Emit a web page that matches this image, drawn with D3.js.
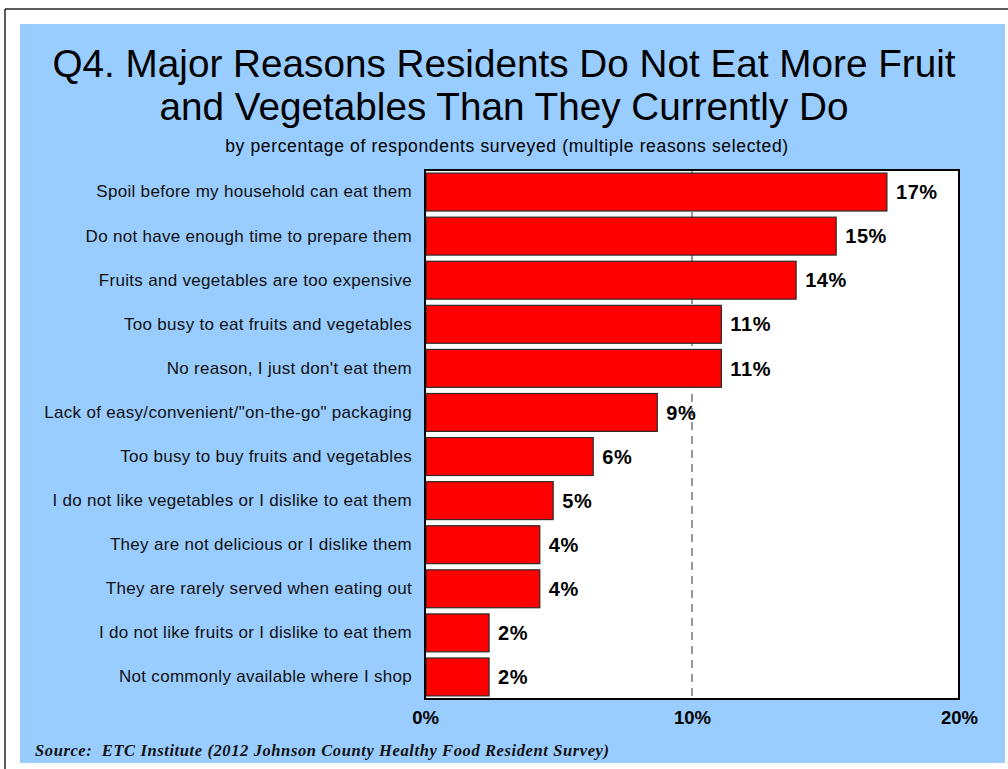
<!DOCTYPE html>
<html>
<head>
<meta charset="utf-8">
<script src="https://cdn.jsdelivr.net/npm/d3@7"></script>
<style>
  html, body { margin: 0; padding: 0; background: #fff; }
  svg { display: block; }
  text { white-space: pre; }
</style>
</head>
<body>
<svg id="chart" width="1008" height="769"></svg>
<script>
// Survey reasons and share of respondents (%)
const reasons = [
  "Spoil before my household can eat them",
  "Do not have enough time to prepare them",
  "Fruits and vegetables are too expensive",
  "Too busy to eat fruits and vegetables",
  "No reason, I just don't eat them",
  "Lack of easy/convenient/\"on-the-go\" packaging",
  "Too busy to buy fruits and vegetables",
  "I do not like vegetables or I dislike to eat them",
  "They are not delicious or I dislike them",
  "They are rarely served when eating out",
  "I do not like fruits or I dislike to eat them",
  "Not commonly available where I shop"
];
const percents = [17.3, 15.4, 13.9, 11.1, 11.1, 8.7, 6.3, 4.8, 4.3, 4.3, 2.4, 2.4];
const xTicks = [0, 10, 20];

const titleLines = [
  "Q4. Major Reasons Residents Do Not Eat More Fruit",
  "and Vegetables Than They Currently Do"
];
const subtitle = "by percentage of respondents surveyed (multiple reasons selected)";
const source = "Source:  ETC Institute (2012 Johnson County Healthy Food Resident Survey)";

const sans = "'Liberation Sans', Arial, sans-serif";
const svg = d3.select("#chart");

// page frame lines
svg.append("line").attr("x1", 5).attr("x2", 1008).attr("y1", 9).attr("y2", 9)
  .attr("stroke", "#222").attr("stroke-width", 1.5);
svg.append("line").attr("x1", 5).attr("x2", 5).attr("y1", 9).attr("y2", 769)
  .attr("stroke", "#222").attr("stroke-width", 1.5);

// light blue slide background
svg.append("rect").attr("x", 20).attr("y", 24).attr("width", 985).attr("height", 739)
  .attr("fill", "#99CCFF");

// title
const title = svg.append("text")
  .attr("text-anchor", "middle")
  .attr("font-family", sans)
  .attr("font-size", 38.7)
  .attr("fill", "#000");
titleLines.forEach((t, i) => {
  title.append("tspan").attr("x", 504).attr("y", 77 + i * 43).text(t);
});

svg.append("text")
  .attr("x", 507).attr("y", 152)
  .attr("text-anchor", "middle")
  .attr("font-family", sans)
  .attr("font-size", 17.5)
  .attr("letter-spacing", 0.65)
  .attr("fill", "#000")
  .text(subtitle);

// plot area
const plot = { left: 425, right: 959, top: 170, bottom: 699 };

const x = d3.scaleLinear().domain([0, 20]).range([plot.left, plot.right]);
const y = d3.scaleBand().domain(reasons).range([plot.top, plot.bottom]).paddingInner(0.14).paddingOuter(0.07);

svg.append("rect")
  .attr("x", plot.left).attr("y", plot.top)
  .attr("width", plot.right - plot.left).attr("height", plot.bottom - plot.top)
  .attr("fill", "#fff");

// dashed gridline at 10%
svg.append("g")
  .selectAll("line")
  .data(xTicks.filter(t => t > 0 && t < 20))
  .join("line")
  .attr("x1", d => x(d)).attr("x2", d => x(d))
  .attr("y1", plot.top).attr("y2", plot.bottom)
  .attr("stroke", "#333").attr("stroke-width", 1)
  .attr("stroke-dasharray", "8,6");

// bars
const data = reasons.map((r, i) => ({ reason: r, value: percents[i] }));

svg.append("g")
  .selectAll("rect")
  .data(data)
  .join("rect")
  .attr("x", x(0) + 1)
  .attr("y", d => y(d.reason))
  .attr("width", d => x(d.value) - x(0) - 1)
  .attr("height", y.bandwidth())
  .attr("fill", "#FF0000")
  .attr("stroke", "#2a2a2a")
  .attr("stroke-width", 1.2);

// value labels
svg.append("g")
  .selectAll("text")
  .data(data)
  .join("text")
  .attr("x", d => x(d.value) + 9)
  .attr("y", d => y(d.reason) + y.bandwidth() / 2)
  .attr("dy", "0.36em")
  .attr("font-family", sans)
  .attr("font-size", 20)
  .attr("letter-spacing", 0.6)
  .attr("font-weight", "bold")
  .attr("fill", "#000")
  .text(d => Math.round(d.value) + "%");

// plot border
svg.append("rect")
  .attr("x", plot.left).attr("y", plot.top)
  .attr("width", plot.right - plot.left).attr("height", plot.bottom - plot.top)
  .attr("fill", "none").attr("stroke", "#000").attr("stroke-width", 2);

// category axis
const yAxis = svg.append("g")
  .attr("transform", `translate(${plot.left},0)`)
  .call(d3.axisLeft(y).tickSize(0).tickPadding(13));
yAxis.select(".domain").remove();
yAxis.selectAll("text")
  .attr("font-family", sans)
  .attr("font-size", 17)
  .attr("letter-spacing", 0.3)
  .attr("fill", "#111");

// value axis
const xAxis = svg.append("g")
  .attr("transform", `translate(0,${plot.bottom})`)
  .call(d3.axisBottom(x).tickValues(xTicks).tickFormat(d => d + "%").tickSize(0).tickPadding(12));
xAxis.select(".domain").remove();
xAxis.selectAll("text")
  .attr("font-family", sans)
  .attr("font-size", 18.5)
  .attr("font-weight", "bold")
  .attr("fill", "#000");

// source note
svg.append("text")
  .attr("x", 35).attr("y", 756)
  .attr("font-family", "'Liberation Serif', 'Times New Roman', serif")
  .attr("font-size", 16.5)
  .attr("letter-spacing", 0.6)
  .attr("font-weight", "bold")
  .attr("font-style", "italic")
  .attr("fill", "#111")
  .text(source);
</script>
</body>
</html>
